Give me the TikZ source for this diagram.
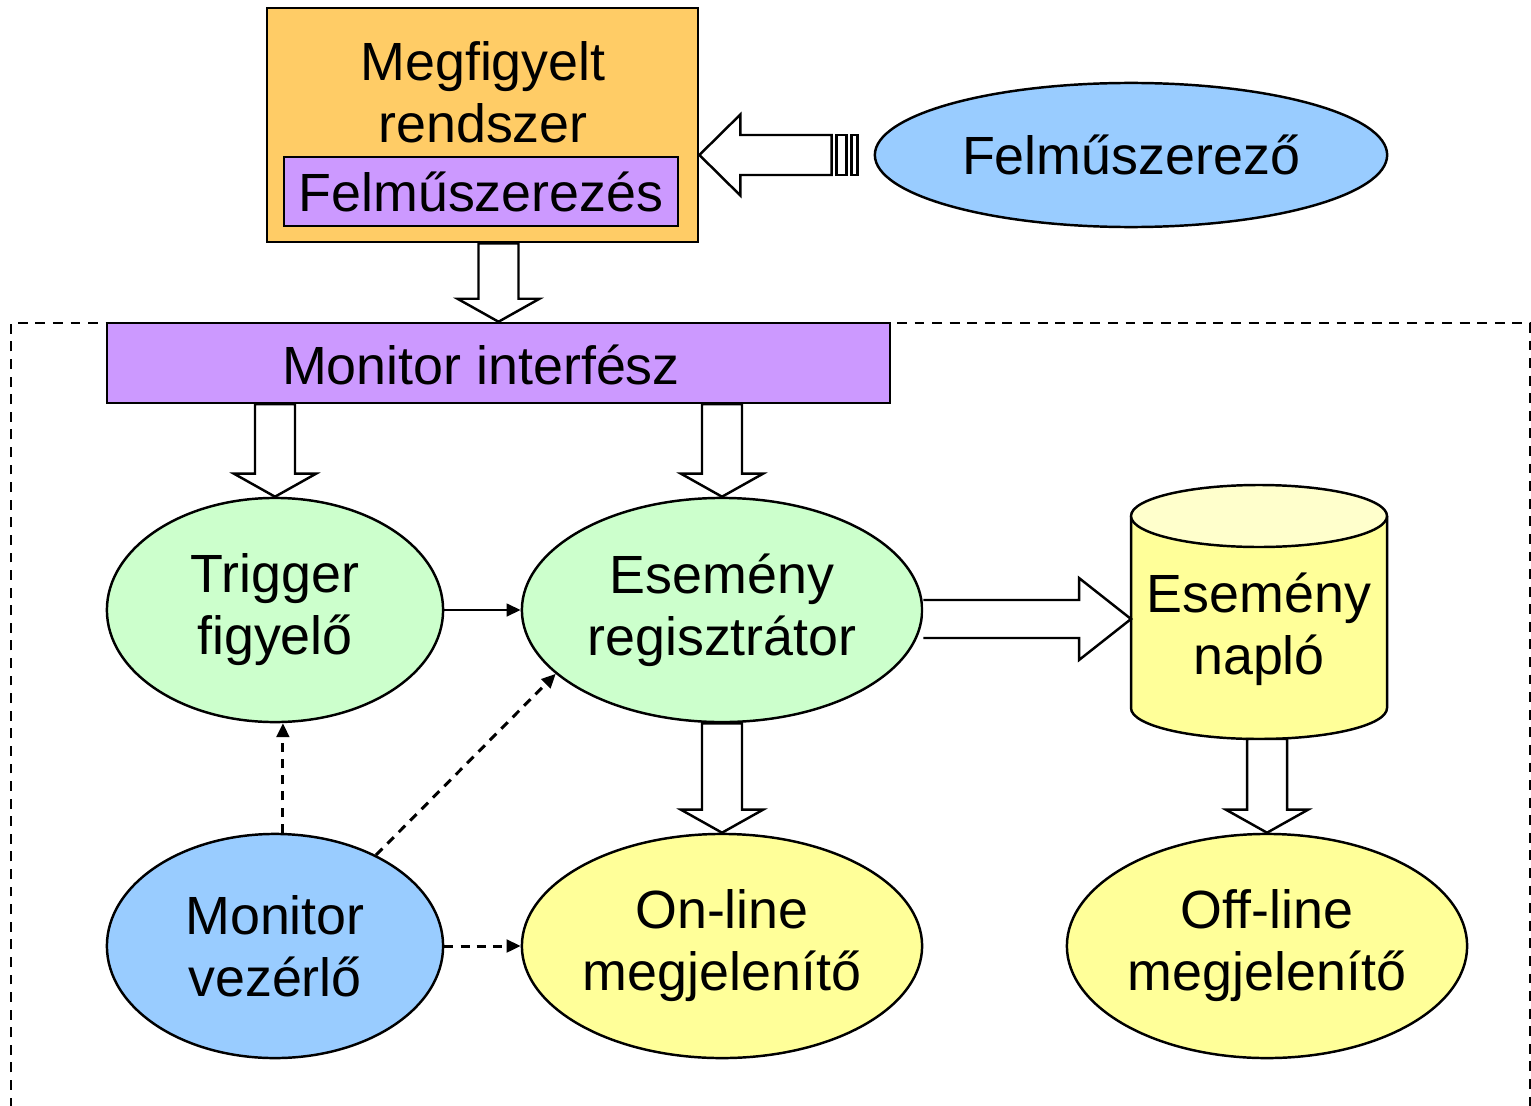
\documentclass[tikz,border=0pt]{standalone}
\usepackage{fontspec}
\setmainfont{Liberation Sans}
\usetikzlibrary{shapes.geometric,calc,arrows.meta}
\definecolor{orangefill}{HTML}{FFCC66}
\definecolor{purplefill}{HTML}{CC99FF}
\definecolor{bluefill}{HTML}{99CCFF}
\definecolor{greenfill}{HTML}{CCFFCC}
\definecolor{yellowfill}{HTML}{FFFF99}
\definecolor{paleyellow}{HTML}{FFFFCC}
\newcommand\hollowdown[2]{%
  \coordinate (hdt) at (#1);
  \coordinate (hds) at (hdt |- #2);
  \draw[hollow] ($(hds)+(-20,0)$) -- ($(hdt)+(-20,23)$) -- ($(hdt)+(-41,23)$) -- (hdt)
    -- ($(hdt)+(41,23)$) -- ($(hdt)+(20,23)$) -- ($(hds)+(20,0)$) -- cycle;}
\begin{document}
\begin{tikzpicture}[x=0.01cm,y=0.01cm,
  txt/.style={font=\fontsize{15.3}{17.6}\selectfont, align=center, inner sep=0pt},
  ell/.style={ellipse, draw, line width=0.7pt, inner sep=0pt, minimum height=2.24cm, txt},
  hollow/.style={draw, fill=white, line width=0.7pt, line join=miter},
  dsh/.style={line width=0.85pt, dash pattern=on 2.6pt off 2pt, -{Triangle[length=4pt,width=3.6pt]}},
  conn/.style={line width=0.7pt, -{Triangle[length=4pt,width=3.6pt]}}]
\useasboundingbox (0,0) rectangle (1531,1105);

% dashed monitor frame
\draw[line width=0.6pt, dash pattern=on 2.8pt off 2.2pt] (11,-20) -- (11,782) -- (1530,782) -- (1530,-20);

% observed system
\node[draw, line width=0.7pt, fill=orangefill, minimum width=4.31cm, minimum height=2.34cm, inner sep=0pt] (sys) at (482.5,980) {};
\node[txt] (systxt) at (483,1013) {Megfigyelt\\rendszer};
\node[draw, line width=0.7pt, fill=purplefill, minimum width=3.94cm, minimum height=0.69cm, txt] (instr) at (481,913.5) {Felműszerezés};

% instrumenter
\node[ell, fill=bluefill, minimum width=5.12cm, minimum height=1.44cm] (felm) at (1131,950) {Felműszerező};

% striped arrow from instrumenter to system
\coordinate (sat) at (sys.east |- felm.west);
\draw[hollow] (sat) -- ($(sat)+(41,40.5)$) -- ($(sat)+(41,20)$) -- ($(felm.west)+(-42,20)$)
  -- ($(felm.west)+(-42,-20)$) -- ($(sat)+(41,-20)$) -- ($(sat)+(41,-40.5)$) -- cycle;
\draw[hollow] ($(felm.west)+(-37,20)$) rectangle ($(felm.west)+(-27,-20)$);
\draw[hollow] ($(felm.west)+(-22,20)$) rectangle ($(felm.west)+(-16,-20)$);

% monitor interface
\node[draw, line width=0.7pt, fill=purplefill, minimum width=7.83cm, minimum height=0.8cm, inner sep=0pt] (iface) at (498.5,742) {};
\node[txt] (ifacetxt) at (481,740) {Monitor interfész};

\hollowdown{iface.north}{sys.south}

% ellipses
\node[ell, fill=greenfill, minimum width=3.36cm] (trig) at (275,495) {Trigger\\figyelő};
\node[ell, fill=greenfill, minimum width=4.0cm] (reg) at (722,495) {Esemény\\regisztrátor};
\node[ell, fill=bluefill, minimum width=3.36cm] (vez) at (275,159) {Monitor\\vezérlő};
\node[ell, fill=yellowfill, minimum width=4.0cm] (online) at (722,159) {On-line\\megjelenítő};
\node[ell, fill=yellowfill, minimum width=4.0cm] (offline) at (1267,159) {Off-line\\megjelenítő};

\hollowdown{trig.north}{iface.south}
\hollowdown{reg.north}{iface.south}
\hollowdown{online.north}{reg.south}

% cylinder (event log)
\fill[yellowfill] (1131,589) -- (1131,397) arc[start angle=180,end angle=360,x radius=128,y radius=31] -- (1387,589) -- cycle;
\draw[line width=0.7pt] (1131,589) -- (1131,397) arc[start angle=180,end angle=360,x radius=128,y radius=31] -- (1387,589);
\draw[line width=0.7pt, fill=paleyellow] (1259,589) ellipse[x radius=128,y radius=31];
\node[txt] (naplo) at (1259,476) {Esemény\\napló};
\coordinate (naplobot) at (1267,366);
\coordinate (naploleft) at (1131,486);

\hollowdown{offline.north}{naplobot}

% big arrow register -> log
\coordinate (rs) at (reg.east |- naploleft);
\draw[hollow] (rs) ++(0,19) -- ($(naploleft)+(-52,19)$) -- ($(naploleft)+(-52,41)$) -- (naploleft)
  -- ($(naploleft)+(-52,-41)$) -- ($(naploleft)+(-52,-19)$) -- ($(rs)+(0,-19)$);

% thin connectors
\draw[conn] (trig.east) -- (reg.west);
\draw[dsh] (vez.86) -- (trig.274);
\draw[dsh] (vez.42) -- (reg.201);
\draw[dsh] (vez.east) -- (online.west);
\end{tikzpicture}
\end{document}
